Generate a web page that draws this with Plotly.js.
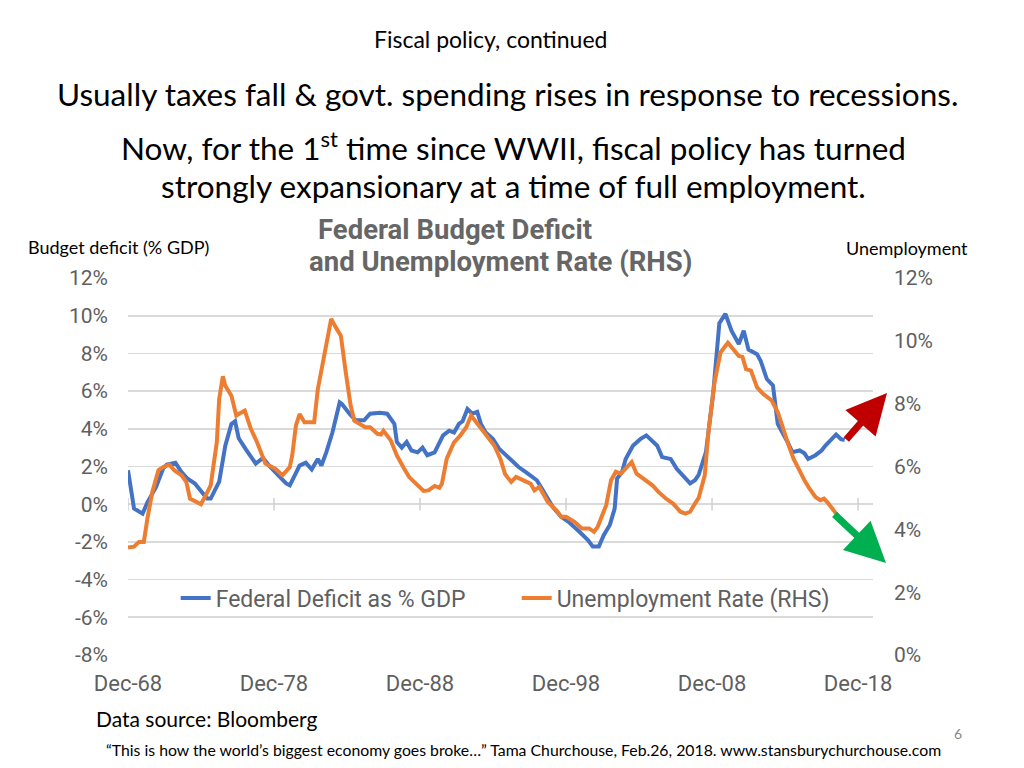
<!DOCTYPE html>
<html>
<head>
<meta charset="utf-8">
<script src="https://cdn.plot.ly/plotly-3.0.1.min.js"></script>
<style>
html,body{margin:0;padding:0;background:#fff;}
#chart{width:1024px;height:768px;}
</style>
</head>
<body>
<div id="chart"></div>
<script>
// Federal deficit as % of GDP (left axis)
const deficitDates = ['1968-12','1969-05','1969-12','1970-04','1970-11','1971-05','1971-08','1972-03','1972-08','1973-01','1973-07','1973-11','1974-05','1974-08','1975-03','1975-08','1976-01','1976-04','1976-07','1977-01','1977-07','1977-09','1978-03','1978-08','1979-04','1979-10','1980-01','1980-09','1981-02','1981-07','1981-12','1982-03','1982-07','1982-12','1983-06','1983-08','1984-02','1984-07','1985-02','1985-07','1986-03','1986-09','1987-03','1987-05','1987-09','1988-01','1988-05','1988-10','1989-02','1989-06','1989-12','1990-07','1990-12','1991-04','1991-08','1991-11','1992-03','1992-07','1992-11','1993-02','1993-06','1993-12','1994-05','1994-10','1995-09','1996-03','1996-12','1997-05','1998-01','1998-08','1999-02','1999-11','2000-06','2000-10','2001-03','2001-07','2001-12','2002-04','2002-06','2002-10','2003-01','2003-07','2004-01','2004-06','2004-11','2005-03','2005-07','2006-02','2006-07','2007-01','2007-06','2007-10','2008-01','2008-07','2009-01','2009-06','2009-11','2010-04','2010-10','2011-02','2011-06','2012-01','2012-04','2012-09','2013-02','2013-06','2013-10','2014-02','2014-06','2014-12','2015-04','2015-07','2016-01','2016-06','2016-09','2017-02','2017-06','2017-10','2018-01'];
const deficitValues = [1.8,-0.23,-0.5,0.1,0.9,1.9,2.1,2.2,1.7,1.35,1.1,0.75,0.3,0.3,1.2,3.1,4.26,4.4,3.5,2.9,2.3,2.15,2.45,2.05,1.5,1.1,1.0,2.05,2.2,1.85,2.4,2.05,2.75,3.8,5.4,5.3,4.8,4.45,4.45,4.8,4.85,4.8,4.26,3.3,3.0,3.3,2.85,2.75,3.0,2.6,2.75,3.65,3.9,3.8,4.26,4.4,5.05,4.8,4.9,4.26,3.8,3.45,2.95,2.65,1.97,1.7,1.27,0.74,-0.14,-0.67,-0.93,-1.46,-1.9,-2.25,-2.25,-1.64,-1.1,-0.23,1.36,1.7,2.4,3.1,3.45,3.65,3.3,3.1,2.5,2.4,1.88,1.44,1.1,1.27,1.55,2.76,5.93,9.6,10.1,9.2,8.5,9.2,8.2,7.96,7.6,6.64,6.3,4.26,3.8,3.3,2.76,2.85,2.7,2.4,2.6,2.85,3.1,3.4,3.7,3.45,3.4];

// Unemployment rate (right axis)
const unempDates = ['1968-12','1969-05','1969-09','1970-01','1970-04','1970-08','1971-01','1971-05','1971-10','1972-02','1972-08','1972-12','1973-03','1973-07','1973-12','1974-04','1974-08','1975-01','1975-03','1975-06','1975-08','1976-01','1976-05','1976-07','1976-12','1977-05','1977-10','1978-05','1979-01','1979-07','1980-01','1980-03','1980-06','1980-09','1981-01','1981-07','1981-09','1981-12','1982-05','1982-11','1983-03','1983-07','1983-11','1984-03','1984-06','1984-10','1985-03','1985-07','1986-01','1986-04','1986-06','1986-12','1987-05','1987-11','1988-03','1988-08','1989-03','1989-07','1989-12','1990-04','1990-06','1990-10','1991-04','1991-09','1992-02','1992-06','1992-10','1993-02','1993-07','1994-01','1994-06','1994-10','1995-03','1995-07','1996-01','1996-07','1996-10','1997-02','1997-09','1998-04','1998-08','1998-12','1999-07','2000-01','2000-07','2000-11','2001-02','2001-06','2001-09','2002-01','2002-05','2002-09','2003-02','2003-06','2003-10','2004-06','2004-11','2005-04','2005-10','2006-04','2006-10','2007-02','2007-06','2007-10','2008-01','2008-06','2008-09','2009-02','2009-07','2010-01','2010-06','2010-10','2011-01','2011-04','2011-08','2012-01','2012-06','2013-01','2013-06','2013-11','2014-03','2014-07','2014-12','2015-04','2015-08','2016-01','2016-05','2016-08','2016-11','2017-03','2017-09','2018-01'];
const unempValues = [3.42,3.45,3.6,3.6,4.35,5.19,5.88,5.98,6.06,5.88,5.72,5.5,4.98,4.9,4.8,5.09,5.4,6.78,8.15,8.87,8.57,8.25,7.62,7.67,7.78,7.2,6.78,6.09,5.93,5.72,5.98,6.35,7.3,7.67,7.41,7.41,7.41,8.46,9.42,10.7,10.42,10.16,8.99,7.94,7.46,7.36,7.25,7.25,7.04,7.02,7.14,6.83,6.35,5.93,5.67,5.48,5.22,5.24,5.38,5.32,5.45,6.25,6.77,6.98,7.25,7.62,7.41,7.25,6.98,6.67,6.25,5.75,5.51,5.67,5.56,5.45,5.24,5.35,4.87,4.61,4.4,4.4,4.24,4.03,4.03,3.92,4.08,4.45,4.77,5.56,5.83,5.77,5.98,6.14,5.77,5.56,5.4,5.19,4.98,4.82,4.56,4.5,4.56,4.82,5.0,5.72,7.09,8.68,9.63,9.94,9.73,9.52,9.49,9.1,9.05,8.52,8.31,8.1,7.73,7.09,6.67,6.25,5.83,5.56,5.3,5.03,4.93,4.98,4.85,4.66,4.35,4.1];

const xTickVals = ['1968-12-01','1978-12-01','1988-12-01','1998-12-01','2008-12-01','2018-12-01'];
const xTickText = ['Dec-68','Dec-78','Dec-88','Dec-98','Dec-08','Dec-18'];
const leftTickVals = [-8,-6,-4,-2,0,2,4,6,8,10,12];
const leftTickText = ['-8%','-6%','-4%','-2%','0%','2%','4%','6%','8%','10%','12%'];
const rightTickVals = [0,2,4,6,8,10,12];
const rightTickText = ['0%','2%','4%','6%','8%','10%','12%'];
const seriesNames = ['Federal Deficit as % GDP','Unemployment Rate (RHS)'];

const slideFont = 'Lato, "Noto Sans", sans-serif';
const chartFont = 'Roboto, sans-serif';
const gray = '#5f5f5f';

const traces = [
  {x: deficitDates, y: deficitValues, name: seriesNames[0], type:'scatter', mode:'lines',
   line:{color:'#4472C4', width:4}, yaxis:'y', xaxis:'x'},
  {x: unempDates, y: unempValues, name: seriesNames[1], type:'scatter', mode:'lines',
   line:{color:'#ED7D31', width:4}, yaxis:'y2', xaxis:'x'},
  // tick marks along the zero line
  {x: xTickVals, y: xTickVals.map(()=>0), type:'scatter', mode:'markers', showlegend:false, hoverinfo:'skip',
   marker:{symbol:'line-ns', size:9, line:{color:'#d0d0d0', width:1.5}}, yaxis:'y', xaxis:'x'}
];

const layout = {
  width:1024, height:768,
  margin:{l:128, r:151, t:278, b:113},
  paper_bgcolor:'#fff', plot_bgcolor:'#fff',
  showlegend:true,
  legend:{orientation:'h', x:0.064, y:0.151, xanchor:'left', yanchor:'middle',
          font:{family:chartFont, size:23, color:gray}, bgcolor:'rgba(0,0,0,0)', entrywidth:296},
  xaxis:{type:'date', range:['1968-12-01','2019-12-10'], tickvals:xTickVals, ticktext:xTickText,
         showgrid:false, zeroline:false, showline:false, ticks:'',
         tickfont:{family:chartFont, size:22, color:gray}, ticklabelstandoff:13},
  yaxis:{range:[-8,12], tickvals:leftTickVals, ticktext:leftTickText, showgrid:true, gridcolor:'#dadada', gridwidth:1.6,
         zeroline:false, showline:false, ticks:'',
         tickfont:{family:chartFont, size:21, color:gray}, ticklabelstandoff:19},
  yaxis2:{range:[0,12], tickvals:rightTickVals, ticktext:rightTickText, overlaying:'y', side:'right', showgrid:false,
          zeroline:false, showline:false, ticks:'',
          tickfont:{family:chartFont, size:21, color:gray}, ticklabelstandoff:20},
  annotations:[
    {text:'Fiscal policy, continued', xref:'paper', yref:'paper', x:0.486, y:(655-39)/377, showarrow:false,
     font:{family:slideFont, size:23, color:'#000'}, xanchor:'center', yanchor:'middle'},
    {text:'Usually taxes fall &amp; govt. spending rises in response to recessions.', xref:'paper', yref:'paper',
     x:0.509, y:(655-94)/377, showarrow:false, font:{family:slideFont, size:31.5, color:'#000'}, xanchor:'center', yanchor:'middle'},
    {text:'Now, for the 1<sup>st</sup> time since WWII, fiscal policy has turned', xref:'paper', yref:'paper',
     x:0.517, y:(655-146)/377, showarrow:false, font:{family:slideFont, size:31.5, color:'#000'}, xanchor:'center', yanchor:'middle'},
    {text:'strongly expansionary at a time of full employment.', xref:'paper', yref:'paper',
     x:0.517, y:(655-186)/377, showarrow:false, font:{family:slideFont, size:31.5, color:'#000'}, xanchor:'center', yanchor:'middle'},
    {text:'<b>Federal Budget Deficit</b>', xref:'paper', yref:'paper', x:(316-128)/745, y:(655-229)/377,
     showarrow:false, font:{family:chartFont, size:27.5, color:'#666'}, xanchor:'left', yanchor:'middle'},
    {text:'<b>and Unemployment Rate (RHS)</b>', xref:'paper', yref:'paper', x:(307-128)/745, y:(655-261)/377,
     showarrow:false, font:{family:chartFont, size:27.5, color:'#666'}, xanchor:'left', yanchor:'middle'},
    {text:'Budget deficit (% GDP)', xref:'paper', yref:'paper', x:(26-128)/745, y:(655-247)/377,
     showarrow:false, font:{family:slideFont, size:18, color:'#000'}, xanchor:'left', yanchor:'middle'},
    {text:'Unemployment', xref:'paper', yref:'paper', x:(970-128)/745, y:(655-248)/377,
     showarrow:false, font:{family:slideFont, size:18, color:'#000'}, xanchor:'right', yanchor:'middle'},
    {text:'Data source: Bloomberg', xref:'paper', yref:'paper', x:(94-128)/745, y:(655-718)/377,
     showarrow:false, font:{family:slideFont, size:21, color:'#000'}, xanchor:'left', yanchor:'middle'},
    {text:'\u201cThis is how the world\u2019s biggest economy goes broke\u2026\u201d Tama Churchouse, Feb.26, 2018. www.stansburychurchouse.com',
     xref:'paper', yref:'paper', x:(523-128)/745, y:(655-749)/377,
     showarrow:false, font:{family:slideFont, size:15.8, color:'#000'}, xanchor:'center', yanchor:'middle'},
    {text:'6', xref:'paper', yref:'paper', x:(958-128)/745, y:(655-733)/377,
     showarrow:false, font:{family:slideFont, size:14, color:'#888'}, xanchor:'center', yanchor:'middle'},
    // red arrow (deficit rising)
    {text:'', xref:'paper', yref:'paper', x:(887-128)/745, y:(655-393)/377, ax:-42, ay:48,
     showarrow:true, arrowhead:2, arrowsize:1.15, arrowwidth:7, arrowcolor:'#C00000'},
    // green arrow (unemployment falling)
    {text:'', xref:'paper', yref:'paper', x:(886-128)/745, y:(655-563)/377, ax:-53, ay:-50,
     showarrow:true, arrowhead:2, arrowsize:1.15, arrowwidth:7, arrowcolor:'#00B050'}
  ]
};

Plotly.newPlot('chart', traces, layout, {displayModeBar:false, staticPlot:true});
</script>
</body>
</html>
